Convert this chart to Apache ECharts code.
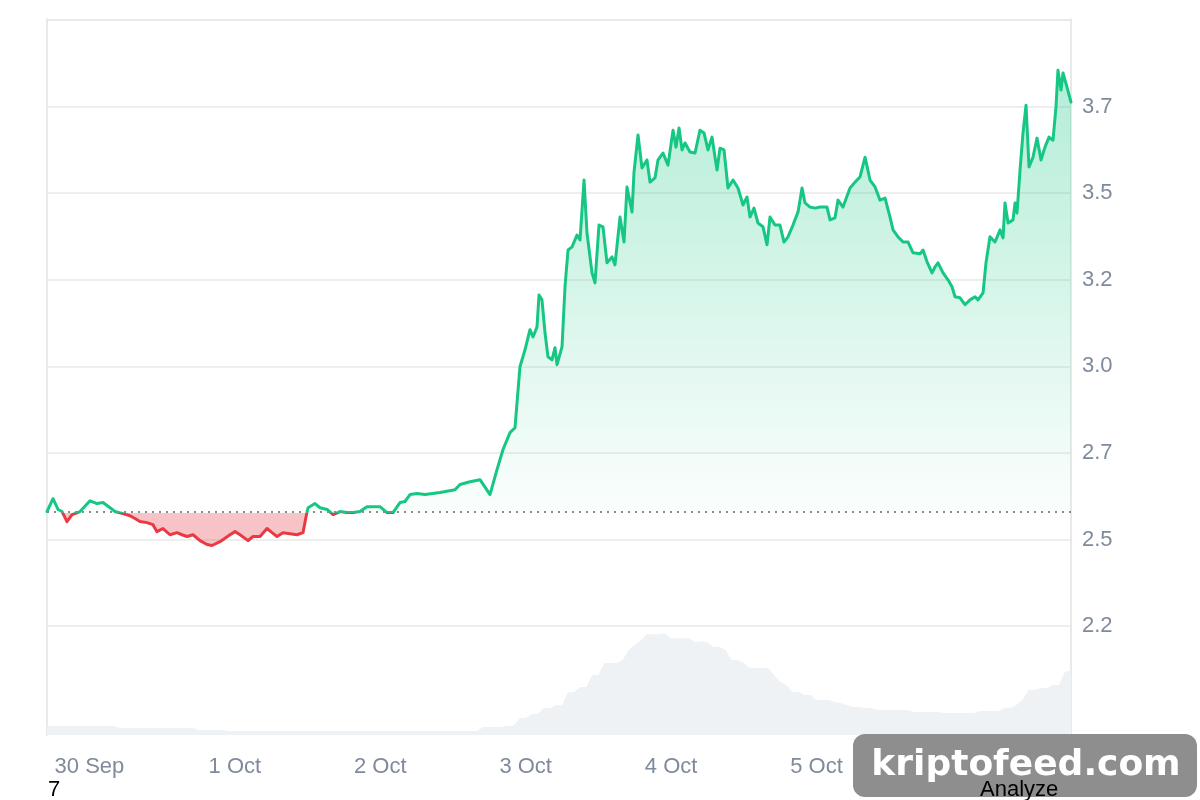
<!DOCTYPE html>
<html>
<head>
<meta charset="utf-8">
<title>Price chart</title>
<script src="https://cdn.jsdelivr.net/npm/echarts@6/dist/echarts.min.js"></script>
<style>
  html, body { margin: 0; padding: 0; background: #fff; }
  #chart { width: 1200px; height: 800px; }
</style>
</head>
<body>
<div id="chart"></div>
<script>
// period starts 29 Sep 17:00, times below are hours after that
const startTime = new Date(2024, 8, 29, 17, 0, 0).getTime()
const hour = 3600 * 1000
const monthNames = ['Jan', 'Feb', 'Mar', 'Apr', 'May', 'Jun', 'Jul', 'Aug', 'Sep', 'Oct', 'Nov', 'Dec']

// price at the start of the period (dotted line)
const baseline = 2.578

const priceHours = [
  0, 0.99, 1.82, 2.48, 3.30, 4.13, 5.45, 7.10, 8.25, 9.24,
  10.40, 11.22, 12.54, 13.70, 14.52, 15.35, 16.50, 17.49, 18.15, 19.14,
  20.30, 21.46, 22.28, 23.11, 24.10, 25.25, 26.41, 27.23, 28.55, 30.20,
  31.03, 31.86, 33.18, 34.00, 35.16, 36.31, 37.14, 37.96, 38.95, 40.11,
  41.26, 42.25, 42.75, 43.08, 44.23, 45.06, 46.22, 47.21, 48.36, 49.51,
  50.50, 51.66, 52.81, 53.80, 54.96, 56.11, 57.10, 58.26, 59.08, 59.91,
  61.06, 62.39, 64.86, 67.34, 68.16, 69.81, 71.46, 73.11, 74.27, 75.26,
  76.41, 77.24, 77.57, 78.06, 78.89, 79.71, 80.21, 80.87, 81.20, 81.69,
  82.19, 82.68, 83.35, 83.84, 84.17, 85.00, 85.49, 85.99, 86.65, 87.47,
  87.97, 88.63, 89.12, 89.95, 90.44, 91.10, 91.76, 92.42, 93.25, 93.74,
  94.57, 95.23, 95.72, 96.55, 96.88, 97.54, 98.19, 99.02, 99.52, 100.34,
  100.84, 101.66, 102.49, 103.32, 103.81, 104.31, 104.80, 105.30, 106.12, 106.95,
  107.77, 108.43, 109.09, 109.75, 110.25, 110.58, 111.07, 111.73, 112.39, 113.22,
  114.04, 114.87, 115.53, 116.02, 116.68, 117.34, 118.17, 118.83, 119.32, 120.15,
  120.97, 121.63, 122.29, 123.12, 123.95, 124.61, 125.10, 125.93, 126.75, 127.58,
  128.73, 129.23, 130.05, 130.55, 131.37, 132.53, 133.35, 134.18, 135.01, 135.83,
  136.66, 137.48, 138.31, 139.13, 139.63, 140.45, 141.28, 142.11, 142.93, 144.09,
  144.58, 145.24, 146.06, 146.56, 147.05, 147.88, 148.70, 149.36, 149.86, 150.68,
  151.51, 152.33, 153.16, 153.65, 154.48, 154.97, 155.63, 156.46, 157.29, 157.78,
  158.11, 158.61, 159.43, 159.76, 160.09, 160.59, 161.08, 161.58, 162.07, 162.73,
  163.39, 164.05, 164.71, 165.37, 166.03, 166.52, 166.85, 167.35, 167.68, 168.34, 169.00
]

const priceValues = [
  2.581, 2.618, 2.587, 2.581, 2.552, 2.572, 2.581, 2.612, 2.604, 2.607,
  2.592, 2.581, 2.575, 2.569, 2.561, 2.552, 2.549, 2.543, 2.523, 2.532,
  2.514, 2.520, 2.514, 2.509, 2.514, 2.497, 2.486, 2.483, 2.494, 2.514,
  2.523, 2.514, 2.497, 2.509, 2.509, 2.532, 2.520, 2.509, 2.520, 2.517,
  2.514, 2.520, 2.566, 2.592, 2.604, 2.592, 2.587, 2.572, 2.581, 2.578,
  2.578, 2.581, 2.595, 2.595, 2.595, 2.578, 2.578, 2.607, 2.610, 2.630,
  2.633, 2.630, 2.636, 2.644, 2.659, 2.667, 2.673, 2.630, 2.702, 2.760,
  2.809, 2.823, 2.895, 2.999, 3.048, 3.106, 3.085, 3.114, 3.206, 3.192,
  3.097, 3.028, 3.019, 3.054, 3.005, 3.057, 3.230, 3.336, 3.345, 3.379,
  3.365, 3.538, 3.385, 3.270, 3.241, 3.408, 3.403, 3.299, 3.316, 3.293,
  3.431, 3.359, 3.518, 3.446, 3.561, 3.668, 3.573, 3.596, 3.532, 3.544,
  3.596, 3.616, 3.581, 3.682, 3.633, 3.688, 3.625, 3.645, 3.619, 3.616,
  3.682, 3.674, 3.625, 3.662, 3.604, 3.567, 3.630, 3.625, 3.515, 3.538,
  3.515, 3.466, 3.489, 3.431, 3.457, 3.414, 3.403, 3.351, 3.431, 3.408,
  3.408, 3.359, 3.374, 3.408, 3.446, 3.515, 3.472, 3.460, 3.457, 3.460,
  3.460, 3.423, 3.429, 3.480, 3.460, 3.515, 3.532, 3.547, 3.604, 3.538,
  3.518, 3.480, 3.486, 3.431, 3.394, 3.374, 3.359, 3.359, 3.328, 3.325,
  3.336, 3.302, 3.270, 3.287, 3.299, 3.270, 3.250, 3.230, 3.201, 3.198,
  3.178, 3.192, 3.201, 3.192, 3.212, 3.299, 3.374, 3.359, 3.394, 3.371,
  3.472, 3.414, 3.423, 3.472, 3.443, 3.567, 3.674, 3.754, 3.576, 3.604,
  3.659, 3.596, 3.633, 3.662, 3.653, 3.749, 3.855, 3.798, 3.847, 3.806, 3.763
]

// trading volume, one value per hour (relative units)
const volumeValues = [
  9, 9, 9, 9, 9, 9, 9, 9, 9, 9,
  9, 9, 7, 7, 7, 7, 7, 7, 7, 7,
  7, 7, 7, 7, 7, 5, 5, 5, 5, 5,
  4, 4, 4, 4, 4, 4, 4, 4, 4, 4,
  4, 4, 4, 4, 4, 4, 4, 4, 4, 4,
  4, 4, 4, 4, 4, 4, 4, 4, 4, 4,
  4, 4, 4, 4, 4, 4, 4, 4, 4, 4,
  4, 4, 8, 8, 8, 8, 9, 9, 17, 17,
  21, 21, 27, 27, 30, 30, 43, 43, 48, 48,
  60, 60, 72, 72, 72, 75, 85, 90, 95, 101,
  101, 101, 102, 97, 97, 97, 97, 93, 94, 93,
  88, 88, 85, 75, 75, 72, 67, 67, 67, 67,
  60, 53, 50, 43, 43, 40, 40, 35, 35, 35,
  33, 32, 30, 28, 28, 27, 27, 25, 25, 25,
  25, 25, 25, 23, 23, 23, 23, 23, 22, 22,
  22, 22, 22, 22, 24, 24, 24, 24, 27, 27,
  30, 35, 45, 45, 47, 47, 50, 50, 63, 65
]

const priceTicks = { min: 2, max: 4, step: 0.25 }
const volumeMax = 717

const green = '#16c784'
const red = '#ea3943'
const labelColor = '#808a9d'
const borderColor = '#e9e9e9'
const font = 'Liberation Sans, Arial, sans-serif'

const priceData = priceValues.map((v, i) => [startTime + priceHours[i] * hour, v])
const volumeData = volumeValues.map((v, i) => [startTime + i * hour, v])
const endTime = startTime + priceHours[priceHours.length - 1] * hour

// first split line (bottom) hidden, others light grey
const splitColors = ['rgba(0,0,0,0)']
for (let v = priceTicks.min + priceTicks.step; v <= priceTicks.max + 1e-9; v += priceTicks.step) {
  splitColors.push(v >= priceTicks.max - 1e-9 ? borderColor : '#eeeeee')
}

const chart = echarts.init(document.getElementById('chart'))

const option = {
  animation: false,
  textStyle: { fontFamily: font },
  grid: [
    { left: 47, right: 129, top: 20, height: 692.8 },
    { left: 47, right: 129, top: 19, bottom: 65 }
  ],
  xAxis: [
    { type: 'time', gridIndex: 0, min: startTime, max: endTime, show: false },
    {
      type: 'time',
      gridIndex: 1,
      min: startTime,
      max: endTime,
      minInterval: 24 * hour,
      maxInterval: 24 * hour,
      axisLine: { show: false },
      axisTick: { show: false },
      splitLine: { show: false },
      axisLabel: {
        color: labelColor,
        fontSize: 22,
        margin: 21,
        formatter: function (value) {
          const d = new Date(value)
          return d.getDate() + ' ' + monthNames[d.getMonth()]
        }
      }
    }
  ],
  yAxis: [
    {
      type: 'value',
      gridIndex: 0,
      position: 'right',
      min: priceTicks.min,
      max: priceTicks.max,
      interval: priceTicks.step,
      axisLine: { show: false },
      axisTick: { show: false },
      splitLine: { lineStyle: { color: splitColors, width: 2 } },
      axisLabel: {
        showMinLabel: false,
        showMaxLabel: false,
        color: labelColor,
        fontSize: 22,
        margin: 11,
        formatter: function (v) {
          return (Math.floor(v * 10 + 1e-9) / 10).toFixed(1)
        }
      }
    },
    {
      type: 'value',
      gridIndex: 1,
      position: 'left',
      min: 0,
      max: volumeMax,
      axisLine: { show: true, lineStyle: { color: borderColor, width: 2 } },
      axisTick: { show: false },
      axisLabel: { show: false },
      splitLine: { show: false }
    },
    {
      type: 'value',
      gridIndex: 1,
      position: 'right',
      min: 0,
      max: 1,
      axisLine: { show: true, lineStyle: { color: borderColor, width: 2 } },
      axisTick: { show: false },
      axisLabel: { show: false },
      splitLine: { show: false }
    }
  ],
  series: [
    {
      name: 'Volume',
      type: 'line',
      xAxisIndex: 1,
      yAxisIndex: 1,
      symbol: 'none',
      data: volumeData,
      lineStyle: { width: 0 },
      areaStyle: { color: '#eff2f5', opacity: 1 },
      silent: true,
      z: 1
    },
    {
      id: 'price',
      name: 'Price',
      type: 'line',
      xAxisIndex: 0,
      yAxisIndex: 0,
      symbol: 'none',
      data: priceData,
      lineStyle: { width: 3, color: green, join: 'round', cap: 'round' },
      areaStyle: { origin: baseline, color: 'rgba(22,199,132,0.2)', opacity: 1 },
      markLine: {
        silent: true,
        symbol: 'none',
        label: { show: false },
        lineStyle: { color: '#8a8a8a', type: [2, 5], width: 2 },
        data: [{ yAxis: baseline }]
      },
      z: 3
    }
  ],
  graphic: [
    {
      type: 'text',
      left: 48,
      top: 779,
      style: { text: '7', fill: '#000', font: '22px ' + font }
    },
    {
      type: 'rect',
      shape: { x: 853, y: 734, width: 344, height: 63, r: 12 },
      style: { fill: '#8e8e8e' },
      z: 10
    },
    {
      type: 'text',
      x: 1026,
      y: 766,
      style: {
        text: 'kriptofeed.com',
        fill: '#fff',
        font: 'bold 36px DejaVu Sans',
        align: 'center',
        verticalAlign: 'middle',
        shadowColor: '#000',
        shadowOffsetX: 2,
        shadowOffsetY: 2,
        shadowBlur: 0
      },
      z: 11
    },
    {
      type: 'text',
      left: 980,
      top: 779,
      style: { text: 'Analyze', fill: '#000', font: '22px ' + font },
      z: 12
    }
  ]
}

chart.setOption(option)

// line and fill split at the baseline: green above, red below
const topPx = chart.convertToPixel({ yAxisIndex: 0 }, priceTicks.max)
const basePx = chart.convertToPixel({ yAxisIndex: 0 }, baseline)
const lowPx = chart.convertToPixel({ yAxisIndex: 0 }, priceTicks.min)
const cut = (basePx - topPx) / (lowPx - topPx)

function splitGradient(upTop, upBottom, down) {
  return {
    type: 'linear',
    x: 0, y: topPx, x2: 0, y2: lowPx,
    global: true,
    colorStops: [
      { offset: 0, color: upTop },
      { offset: cut, color: upBottom },
      { offset: cut, color: down },
      { offset: 1, color: down }
    ]
  }
}

chart.setOption({
  series: [{
    id: 'price',
    lineStyle: { width: 3, color: splitGradient(green, green, red), join: 'round', cap: 'round' },
    areaStyle: {
      origin: baseline,
      opacity: 1,
      color: splitGradient('rgba(22,199,132,0.36)', 'rgba(22,199,132,0.02)', 'rgba(234,57,67,0.3)')
    }
  }]
})
</script>
</body>
</html>
